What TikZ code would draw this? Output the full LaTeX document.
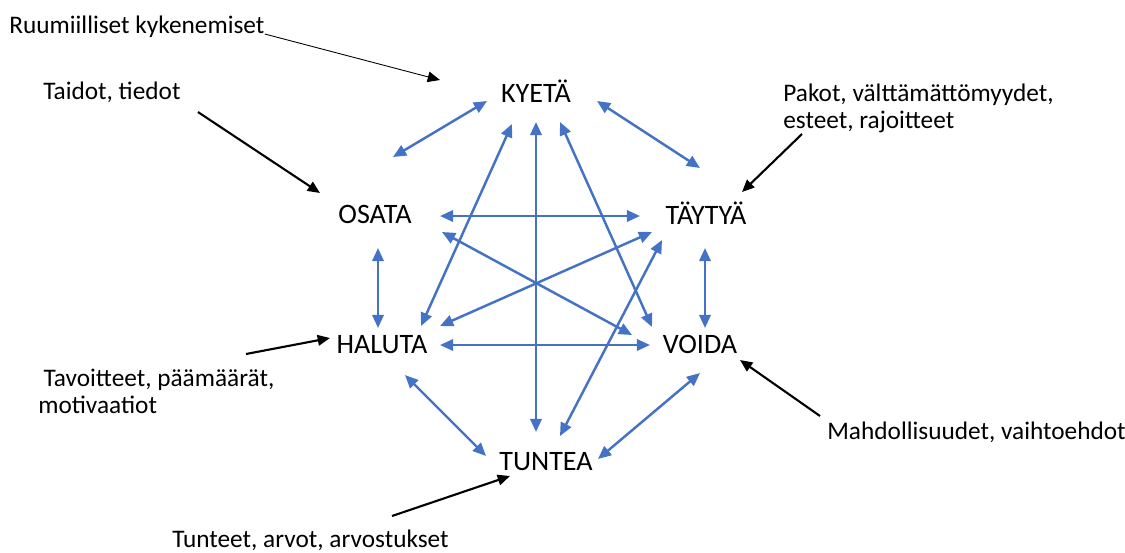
\documentclass[tikz,border=0pt]{standalone}
\usepackage{fontspec}
\setmainfont{Carlito}
\usepackage{tikz}
\usepackage{xcolor}
\usetikzlibrary{arrows.meta, positioning, calc}

\definecolor{linkblue}{HTML}{4472C4}

\tikzset{
  verb/.style={font=\fontsize{16}{19}\selectfont, inner sep=0pt},
  cause/.style={font=\fontsize{14.4}{15.2}\selectfont, inner sep=0pt, align=left},
  link/.style={linkblue, line width=1.4pt, {Triangle[length=7.5pt,width=6.5pt]}-{Triangle[length=7.5pt,width=6.5pt]}},
  feed/.style={black, line width=1.2pt, -{Triangle[length=7pt,width=6pt]}},
}

\begin{document}
\begin{tikzpicture}[x=0.02cm, y=-0.02cm]
    \useasboundingbox (0,0) rectangle (1125,552);

    % The six verbs
    \node[verb] (kyeta)  at (536,91)  {KYETÄ};
    \node[verb] (osata)  at (375,214) {OSATA};
    \node[verb] (taytya) at (706,213) {TÄYTYÄ};
    \node[verb] (haluta) at (382,345) {HALUTA};
    \node[verb] (voida)  at (700,344) {VOIDA};
    \node[verb] (tuntea) at (546,462) {TUNTEA};

    % Outer explanations
    \node[cause, anchor=west] (ruumis) at (9,27) {Ruumiilliset kykenemiset};
    \node[cause, anchor=west] (taidot) at (43,92) {Taidot, tiedot};
    \node[cause, anchor=north west] (pakot) at (783,84) {Pakot, välttämättömyydet,\\esteet, rajoitteet};
    \node[cause, anchor=north west] (tavoite) at (38,369) {\hspace*{3pt}Tavoitteet, päämäärät,\\motivaatiot};
    \node[cause, anchor=west] (mahd) at (827,432) {Mahdollisuudet, vaihtoehdot};
    \node[cause, anchor=west] (tunteet) at (172,540) {Tunteet, arvot, arvostukset};

    % Links between the verbs
    \draw[link] ([shift={(-49,10)}]kyeta.center) -- ([shift={(18,-57)}]osata.center);
    \draw[link] ([shift={(61,10)}]kyeta.center) -- ([shift={(-6,-45)}]taytya.center);
    \draw[link] ([shift={(65,2)}]osata.center) -- ([shift={(-66,3)}]taytya.center);
    \draw[link] ([shift={(3,34)}]osata.center) -- ([shift={(-4,-17)}]haluta.center);
    \draw[link] ([shift={(-1,35)}]taytya.center) -- ([shift={(5,-16)}]voida.center);
    \draw[link] ([shift={(58,0)}]haluta.center) -- ([shift={(-50,1)}]voida.center);
    \draw[link] ([shift={(23,30)}]haluta.center) -- ([shift={(-60,-6)}]tuntea.center);
    \draw[link] ([shift={(0,29)}]voida.center) -- ([shift={(52,-3)}]tuntea.center);
    \draw[link] ([shift={(0,31)}]kyeta.center) -- ([shift={(-10,-30)}]tuntea.center);
    \draw[link] ([shift={(-24,33)}]kyeta.center) -- ([shift={(39,-19)}]haluta.center);
    \draw[link] ([shift={(24,31)}]kyeta.center) -- ([shift={(-48,-17)}]voida.center);
    \draw[link] ([shift={(67,18)}]osata.center) -- ([shift={(-68,-9)}]voida.center);
    \draw[link] ([shift={(-54,19)}]taytya.center) -- ([shift={(58,-19)}]haluta.center);
    \draw[link] ([shift={(-44,27)}]taytya.center) -- ([shift={(14,-26)}]tuntea.center);

    % Arrows from the explanations
    \draw[feed, line width=0.5pt] ([shift={(0,7)}]ruumis.east) -- ([shift={(-96,-11)}]kyeta.center);
    \draw[feed] ([shift={(17,20)}]taidot.east) -- ([shift={(-55,-21)}]osata.center);
    \draw[feed] ([shift={(19,50)}]pakot.north west) -- ([shift={(36,-21)}]taytya.center);
    \draw[feed] ([shift={(208,-15)}]tavoite.north west) -- ([shift={(-52,-7)}]haluta.center);
    \draw[feed] ([shift={(-7,-16)}]mahd.west) -- ([shift={(40,16)}]voida.center);
    \draw[feed] ([shift={(220,-24)}]tunteet.west) -- ([shift={(-36,14)}]tuntea.center);
\end{tikzpicture}
\end{document}
